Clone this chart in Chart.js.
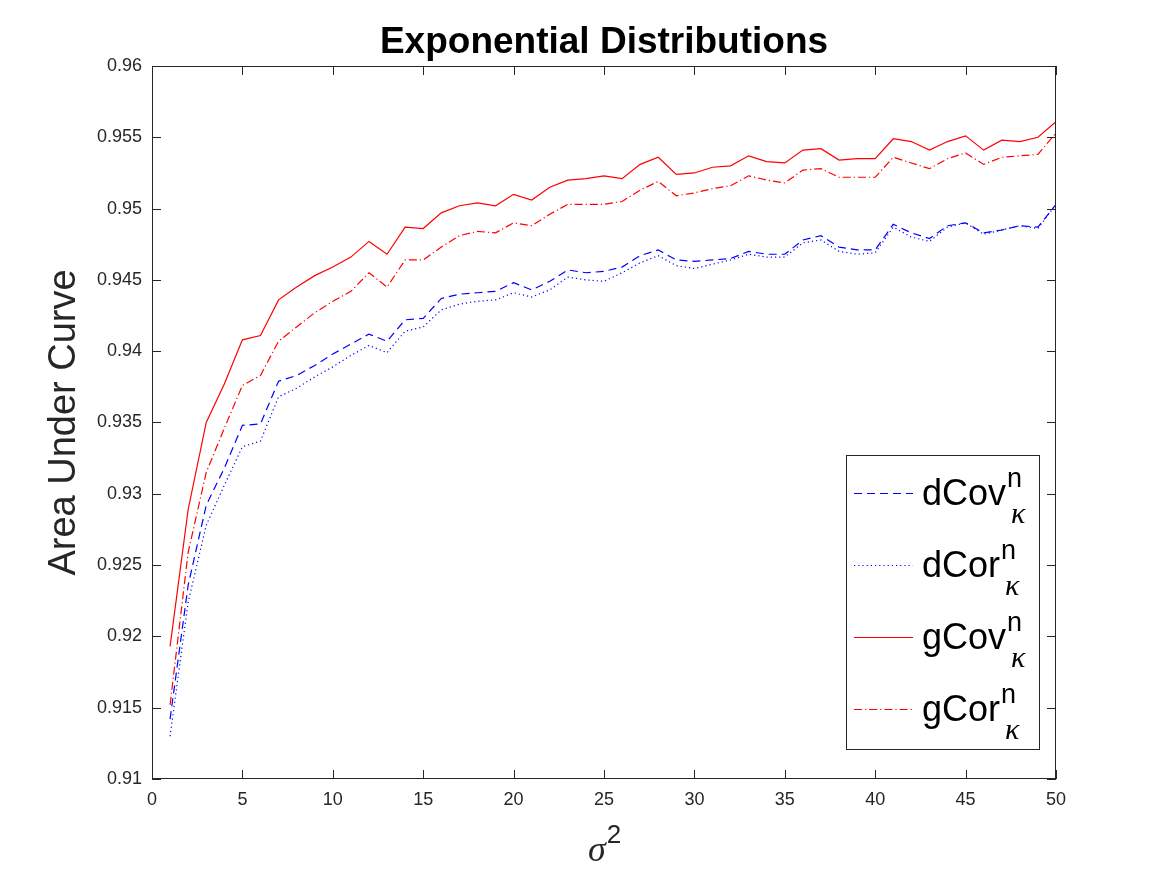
<!DOCTYPE html>
<html>
<head>
<meta charset="utf-8">
<title>Exponential Distributions</title>
<script src="https://cdn.jsdelivr.net/npm/chart.js@4.4.1/dist/chart.umd.min.js"></script>
<style>
  body { margin: 0; background: #fff; }
  #wrap { width: 1167px; height: 875px; }
</style>
</head>
<body>
<div id="wrap"><canvas id="aucChart" width="1167" height="875"></canvas></div>
<script>
// sigma^2 values on the x axis
const sigma2 = [1, 2, 3, 4, 5, 6, 7, 8, 9, 10, 11, 12, 13, 14, 15, 16, 17, 18, 19, 20,
  21, 22, 23, 24, 25, 26, 27, 28, 29, 30, 31, 32, 33, 34, 35, 36, 37, 38, 39, 40,
  41, 42, 43, 44, 45, 46, 47, 48, 49, 50];

// area under curve
const dCov = [0.9142, 0.9236, 0.9292, 0.9318, 0.9348, 0.9349, 0.9379, 0.9383, 0.9390, 0.9398,
  0.9405, 0.9412, 0.9407, 0.9422, 0.9423, 0.9437, 0.9440, 0.9441, 0.9442, 0.9448,
  0.9443, 0.9449, 0.9457, 0.9455, 0.9456, 0.9459, 0.9467, 0.9471, 0.9464, 0.9463,
  0.9464, 0.9465, 0.9470, 0.9468, 0.9468, 0.9478, 0.9481, 0.9473, 0.9471, 0.9471,
  0.9489, 0.9483, 0.9479, 0.9488, 0.9490, 0.9483, 0.9485, 0.9488, 0.9487, 0.9503];
const dCor = [0.9130, 0.9224, 0.9278, 0.9306, 0.9333, 0.9337, 0.9368, 0.9374, 0.9382, 0.9389,
  0.9397, 0.9404, 0.9399, 0.9414, 0.9417, 0.9429, 0.9433, 0.9435, 0.9436, 0.9441,
  0.9438, 0.9443, 0.9452, 0.9450, 0.9449, 0.9455, 0.9462, 0.9467, 0.9460, 0.9458,
  0.9461, 0.9464, 0.9468, 0.9466, 0.9466, 0.9476, 0.9478, 0.9470, 0.9468, 0.9469,
  0.9487, 0.9480, 0.9477, 0.9487, 0.9490, 0.9482, 0.9485, 0.9488, 0.9486, 0.9503];
const gCov = [0.9193, 0.9289, 0.9350, 0.9377, 0.9408, 0.9411, 0.9436, 0.9445, 0.9453, 0.9459,
  0.9466, 0.9477, 0.9468, 0.9487, 0.9486, 0.9497, 0.9502, 0.9504, 0.9502, 0.9510,
  0.9506, 0.9515, 0.9520, 0.9521, 0.9523, 0.9521, 0.9531, 0.9536, 0.9524, 0.9525,
  0.9529, 0.9530, 0.9537, 0.9533, 0.9532, 0.9541, 0.9542, 0.9534, 0.9535, 0.9535,
  0.9549, 0.9547, 0.9541, 0.9547, 0.9551, 0.9541, 0.9548, 0.9547, 0.9550, 0.9561];
const gCor = [0.9152, 0.9259, 0.9315, 0.9346, 0.9376, 0.9383, 0.9407, 0.9417, 0.9427, 0.9435,
  0.9442, 0.9455, 0.9445, 0.9464, 0.9464, 0.9473, 0.9481, 0.9484, 0.9483, 0.9490,
  0.9488, 0.9496, 0.9503, 0.9503, 0.9503, 0.9505, 0.9513, 0.9519, 0.9509, 0.9511,
  0.9514, 0.9516, 0.9523, 0.9520, 0.9518, 0.9527, 0.9528, 0.9522, 0.9522, 0.9522,
  0.9536, 0.9532, 0.9528, 0.9535, 0.9539, 0.9531, 0.9536, 0.9537, 0.9538, 0.9553];

const xTicks = [0, 5, 10, 15, 20, 25, 30, 35, 40, 45, 50];
const yTicks = [0.91, 0.915, 0.92, 0.925, 0.93, 0.935, 0.94, 0.945, 0.95, 0.955, 0.96];

const FONT = '"Liberation Sans", Arial, Helvetica, sans-serif';
const AXIS = '#262626';

function pts(ys) {
  return sigma2.map((x, i) => ({ x: x, y: ys[i] }));
}

const series = [
  { name: 'dCov', data: dCov, color: '#0000ff', dash: [8, 5] },
  { name: 'dCor', data: dCor, color: '#0000ff', dash: [1.2, 3] },
  { name: 'gCov', data: gCov, color: '#ff0000', dash: [] },
  { name: 'gCor', data: gCor, color: '#ff0000', dash: [8, 3, 1.2, 3] }
];

// box, inward ticks, titles and the legend, MATLAB style
const matlabLook = {
  id: 'matlabLook',
  afterDatasetsDraw(chart) {
    const { ctx, chartArea: a, scales } = chart;
    const xs = scales.x, ys = scales.y;
    ctx.save();
    ctx.strokeStyle = AXIS;
    ctx.lineWidth = 1;
    ctx.setLineDash([]);
    ctx.strokeRect(a.left + 0.5, a.top + 0.5, a.right - a.left - 1, a.bottom - a.top - 1);
    ctx.beginPath();
    xTicks.forEach(v => {
      const px = Math.round(xs.getPixelForValue(v)) + 0.5;
      ctx.moveTo(px, a.bottom); ctx.lineTo(px, a.bottom - 9);
      ctx.moveTo(px, a.top); ctx.lineTo(px, a.top + 9);
    });
    yTicks.forEach(v => {
      const py = Math.round(ys.getPixelForValue(v)) + 0.5;
      ctx.moveTo(a.left, py); ctx.lineTo(a.left + 9, py);
      ctx.moveTo(a.right, py); ctx.lineTo(a.right - 9, py);
    });
    ctx.stroke();

    // title
    const cx = (a.left + a.right) / 2;
    ctx.fillStyle = '#000';
    ctx.font = 'bold 37px ' + FONT;
    ctx.textAlign = 'center';
    ctx.textBaseline = 'alphabetic';
    ctx.fillText('Exponential Distributions', cx, 53);

    // x label: sigma^2
    ctx.fillStyle = AXIS;
    ctx.font = 'italic 36px "Liberation Serif", serif';
    const sw = ctx.measureText('σ').width;
    ctx.font = '26px ' + FONT;
    const tw = ctx.measureText('2').width;
    const sx = cx - (sw + tw) / 2;
    ctx.textAlign = 'left';
    ctx.font = 'italic 36px "Liberation Serif", serif';
    ctx.fillText('σ', sx, 861);
    ctx.font = '26px ' + FONT;
    ctx.fillText('2', sx + sw + 1, 843);

    // y label
    ctx.save();
    ctx.translate(75, (a.top + a.bottom) / 2);
    ctx.rotate(-Math.PI / 2);
    ctx.textAlign = 'center';
    ctx.font = '38px ' + FONT;
    ctx.fillText('Area Under Curve', 0, 0);
    ctx.restore();

    // legend
    const L = 846, T = 455, R = 1039, B = 749;
    ctx.fillStyle = '#fff';
    ctx.fillRect(L, T, R - L, B - T);
    ctx.strokeStyle = AXIS;
    ctx.strokeRect(L + 0.5, T + 0.5, R - L, B - T);
    chart.data.datasets.forEach((ds, i) => {
      const ly = 493 + i * 72;
      ctx.beginPath();
      ctx.strokeStyle = ds.borderColor;
      ctx.lineWidth = 1.2;
      ctx.setLineDash(ds.borderDash || []);
      ctx.moveTo(854, ly + 0.5);
      ctx.lineTo(913, ly + 0.5);
      ctx.stroke();
      ctx.setLineDash([]);
      ctx.fillStyle = '#000';
      ctx.textAlign = 'left';
      ctx.font = '36px ' + FONT;
      ctx.fillText(ds.label, 922, ly + 12);
      const w = ctx.measureText(ds.label).width;
      ctx.font = '27px ' + FONT;
      ctx.fillText('n', 922 + w + 1, ly - 6);
      ctx.font = 'italic 30px "Liberation Serif", serif';
      ctx.fillText('κ', 922 + w + 5, ly + 30);
    });
    ctx.restore();
  }
};

new Chart(document.getElementById('aucChart'), {
  type: 'line',
  data: {
    datasets: series.map(s => ({
      label: s.name,
      data: pts(s.data),
      borderColor: s.color,
      backgroundColor: s.color,
      borderDash: s.dash,
      borderWidth: 1.2,
      pointRadius: 0,
      tension: 0,
      fill: false
    }))
  },
  options: {
    responsive: false,
    devicePixelRatio: 1,
    animation: false,
    layout: { padding: { left: 0, right: 111, top: 66, bottom: 0 } },
    plugins: {
      legend: { display: false },
      title: { display: false },
      tooltip: { enabled: false }
    },
    scales: {
      x: {
        type: 'linear',
        min: 0,
        max: 50,
        afterBuildTicks: s => { s.ticks = xTicks.map(v => ({ value: v })); },
        afterFit: s => { s.height = 96; },
        grid: { display: false, drawTicks: false },
        border: { display: false },
        ticks: {
          color: AXIS,
          padding: 10,
          maxRotation: 0,
          font: { family: FONT, size: 18 },
          callback: v => String(v)
        }
      },
      y: {
        type: 'linear',
        min: 0.91,
        max: 0.96,
        afterBuildTicks: s => { s.ticks = yTicks.map(v => ({ value: v })); },
        afterFit: s => { s.width = 152; },
        grid: { display: false, drawTicks: false },
        border: { display: false },
        ticks: {
          color: AXIS,
          padding: 10,
          font: { family: FONT, size: 18 },
          callback: v => String(Number(Number(v).toFixed(3)))
        }
      }
    }
  },
  plugins: [matlabLook]
});
</script>
</body>
</html>
